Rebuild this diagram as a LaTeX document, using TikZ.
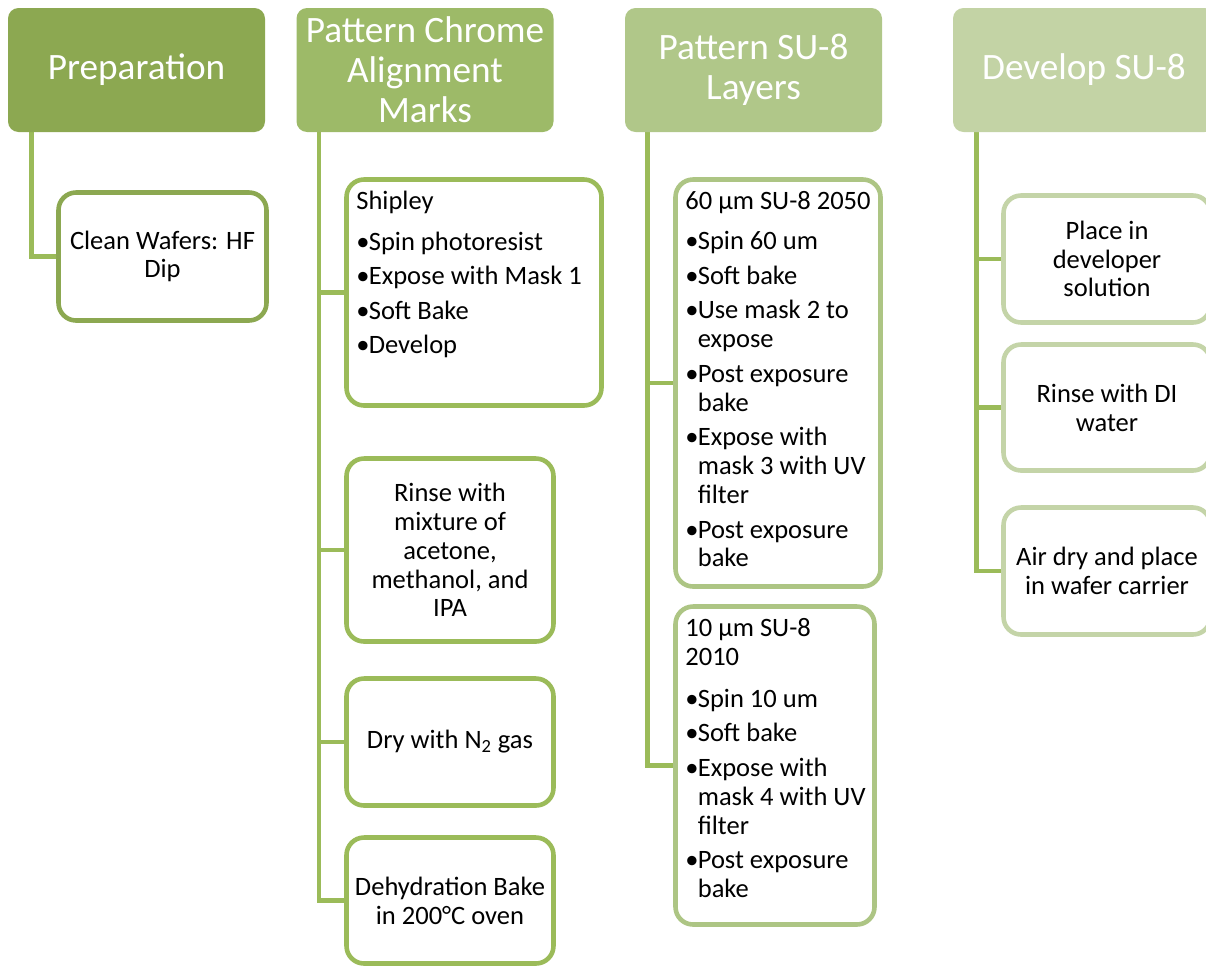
\documentclass[tikz,border=0pt]{standalone}
\usepackage{fontspec}
\setmainfont{Carlito}
\usetikzlibrary{calc,backgrounds}

\definecolor{gA}{RGB}{140,168,81}
\definecolor{gB}{RGB}{157,186,104}
\definecolor{gC}{RGB}{176,199,137}
\definecolor{gD}{RGB}{195,211,165}
\definecolor{bB}{RGB}{155,187,89}
\definecolor{bC}{RGB}{173,197,132}
\definecolor{bD}{RGB}{196,212,168}
\definecolor{lnk}{RGB}{155,187,89}

\newcommand{\px}{0.02cm}
\newcommand{\bl}{\makebox[0.47em][l]{\textbullet}}
\newcommand{\hg}{\hspace*{0.47em}}

\tikzset{
  head/.style={fill=#1, draw=none, rounded corners=6pt, text=white, align=center,
    font=\fontsize{21.2}{22.7}\selectfont, minimum width=257*\px, minimum height=124*\px},
  stepbox/.style={draw=#1, fill=white, line width=2.6pt, rounded corners=10pt, align=center,
    font=\fontsize{15.1}{16.4}\selectfont, inner sep=0pt},
  steptext/.style={anchor=north west, align=left, inner sep=0pt,
    font=\fontsize{15.1}{16.4}\selectfont},
  link/.style={draw=lnk, line width=2.6pt}
}

\begin{document}
\begin{tikzpicture}[x=\px, y=-\px]
  \clip (0,0) rectangle (1206,968);

  % Headers
  \node[head=gA] (1) at (136.5,70) {Preparation};
  \node[head=gB] (2) at (425,70) {Pattern Chrome\\Alignment\\Marks};
  \node[head=gC] (3) at (753.5,70) {Pattern SU-8\\Layers};
  \node[head=gD, minimum width=262*\px] (4) at (1084,70) {Develop SU-8};

  % Steps
  \node[stepbox=gA, minimum width=208*\px, minimum height=128*\px] (1a) at (162.5,256.5)
    {Clean Wafers: HF\\Dip};

  \node[stepbox=bB, minimum width=255*\px, minimum height=226*\px] (2a) at (474,292.5) {};
  \node[steptext] at (356,191) {Shipley\\[6.5pt]
    \bl Spin photoresist\\[3.3pt]
    \bl Expose with Mask 1\\[3.3pt]
    \bl Soft Bake\\[3.3pt]
    \bl Develop};
  \node[stepbox=bB, minimum width=207*\px, minimum height=183*\px] (2b) at (450,550)
    {Rinse with\\mixture of\\acetone,\\methanol, and\\IPA};
  \node[stepbox=bB, minimum width=207*\px, minimum height=127*\px] (2c) at (450,742)
    {Dry with N\textsubscript{2} gas};
  \node[stepbox=bB, minimum width=207*\px, minimum height=126*\px] (2d) at (450,900.5)
    {Dehydration Bake\\in 200°C oven};

  \node[stepbox=bC, minimum width=205*\px, minimum height=407*\px] (3a) at (778,383) {};
  \node[steptext] at (685,191) {60 µm SU-8 2050\\[6.5pt]
    \bl Spin 60 um\\[3.3pt]
    \bl Soft bake\\[3.3pt]
    \bl Use mask 2 to\\\hg expose\\[3.3pt]
    \bl Post exposure\\\hg bake\\[3.3pt]
    \bl Expose with\\\hg mask 3 with UV\\\hg filter\\[3.3pt]
    \bl Post exposure\\\hg bake};
  \node[stepbox=bC, minimum width=199*\px, minimum height=318*\px] (3b) at (775,765.5) {};
  \node[steptext] at (685,618) {10 µm SU-8\\2010\\[7.5pt]
    \bl Spin 10 um\\[3.3pt]
    \bl Soft bake\\[3.3pt]
    \bl Expose with\\\hg mask 4 with UV\\\hg filter\\[3.3pt]
    \bl Post exposure\\\hg bake};

  \node[stepbox=bD, minimum width=207*\px, minimum height=127*\px] (4a) at (1107,259)
    {Place in\\developer\\solution};
  \node[stepbox=bD, minimum width=207*\px, minimum height=126*\px] (4b) at (1107,407.5)
    {Rinse with DI\\water};
  \node[stepbox=bD, minimum width=207*\px, minimum height=127*\px] (4c) at (1107,571)
    {Air dry and place\\in wafer carrier};

  % Links
  \begin{scope}[on background layer]
    \draw[link] ($(1.south west)+(24,0)$) |- (1a.west);
    \foreach \s in {2a,2b,2c,2d}
      \draw[link] ($(2.south west)+(23,0)$) |- (\s.west);
    \foreach \s in {3a,3b}
      \draw[link] ($(3.south west)+(23,0)$) |- (\s.west);
    \foreach \s in {4a,4b,4c}
      \draw[link] ($(4.south west)+(24,0)$) |- (\s.west);
  \end{scope}
\end{tikzpicture}
\end{document}
